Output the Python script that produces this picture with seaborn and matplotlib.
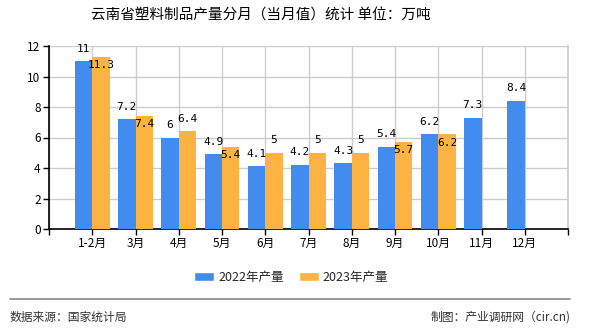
import matplotlib
matplotlib.use("Agg")
import matplotlib.pyplot as plt
import seaborn as sns
import pandas as pd
import numpy as np
from matplotlib.lines import Line2D
from matplotlib.patches import Patch

categories = ["1-2月", "3月", "4月", "5月", "6月", "7月", "8月", "9月", "10月", "11月", "12月"]
vals_2022 = [11, 7.2, 6, 4.9, 4.1, 4.2, 4.3, 5.4, 6.2, 7.3, 8.4]
vals_2023 = [11.3, 7.4, 6.4, 5.4, 5, 5, 5, 5.7, 6.2]
series = ["2022年产量", "2023年产量"]
# placement of 2023 labels: True -> drawn just below bar top (collision avoidance)
label_below_2023 = [True, True, False, True, False, False, False, True, True]

colors = ["#418CEE", "#FCB342"]

rows = []
for c, v in zip(categories, vals_2022):
    rows.append({"月份": c, "系列": series[0], "产量": v})
for c, v in zip(categories, vals_2023):
    rows.append({"月份": c, "系列": series[1], "产量": v})
df = pd.DataFrame(rows)

sns.set_theme(style="white")
plt.rcParams["font.family"] = ["Noto Sans CJK SC", "DejaVu Sans"]

fig = plt.figure(figsize=(5.9, 3.3), dpi=100)
ax = fig.add_axes([49/590, 1-229/330, (568-49)/590, (229-46)/330])

sns.barplot(data=df, x="月份", y="产量", hue="系列", order=categories,
            hue_order=series, palette=colors, width=0.8, saturation=1,
            errorbar=None, ax=ax, legend=False, zorder=3, linewidth=0,
            edgecolor="none")

ax.set_xlim(-1, len(categories))
ax.set_xticks(range(-1, len(categories) + 1))
ax.set_xticklabels([""] + categories + [""], fontsize=8.5)
ax.set_ylim(0, 12)
ax.set_yticks(range(0, 13, 2))
ax.set_yticklabels([str(v) for v in range(0, 13, 2)], fontsize=8.5)
ax.set_xlabel("")
ax.set_ylabel("")

ax.grid(True, color="#CCCCCC", linewidth=1, zorder=0)
ax.set_axisbelow(True)
ax.spines["top"].set_visible(False)
ax.spines["right"].set_color("#CCCCCC")
ax.spines["left"].set_color("black")
ax.spines["bottom"].set_color("black")
ax.spines["left"].set_linewidth(1.2)
ax.spines["bottom"].set_linewidth(1.2)
ax.tick_params(axis="both", direction="out", length=4, width=1, color="black",
               labelcolor="black", bottom=True, left=True, pad=2)

# data labels
lab_font = dict(family="DejaVu Sans Mono", fontsize=8, color="black")
for ci, cont in enumerate(ax.containers):
    k = 0
    for p in cont.patches:
        h = p.get_height()
        if np.isnan(h):
            continue
        x = p.get_x() + p.get_width() / 2
        txt = f"{h:g}"
        if ci == 1 and k < len(label_below_2023) and label_below_2023[k]:
            ax.annotate(txt, (x, h), xytext=(0, -6), textcoords="offset points",
                        ha="center", va="center", zorder=5, **lab_font)
        else:
            ax.annotate(txt, (x, h), xytext=(0, 5.5), textcoords="offset points",
                        ha="center", va="bottom", zorder=5, **lab_font)
        k += 1

fig.text(261/590, 1-16/330, "云南省塑料制品产量分月（当月值）统计 单位：万吨",
         ha="center", va="center", fontsize=10.5, color="black")

handles = [Patch(facecolor=colors[0]), Patch(facecolor=colors[1])]
fig.legend(handles, series, loc="center", bbox_to_anchor=(291/590, 1-277/330),
           ncol=2, frameon=False, fontsize=9, handlelength=1.6, handleheight=0.7,
           handletextpad=0.3, columnspacing=1.2)

fig.add_artist(Line2D([10/590, 570/590], [1-299/330, 1-299/330],
                      color="#888888", linewidth=1.2, transform=fig.transFigure))
fig.text(10/590, 1-317/330, "数据来源：国家统计局", ha="left", va="center",
         fontsize=8.5, color="#333333")
fig.text(571/590, 1-317/330, "制图：产业调研网（cir.cn)", ha="right", va="center",
         fontsize=8.5, color="#333333")

fig.savefig("out.png", dpi=100)
